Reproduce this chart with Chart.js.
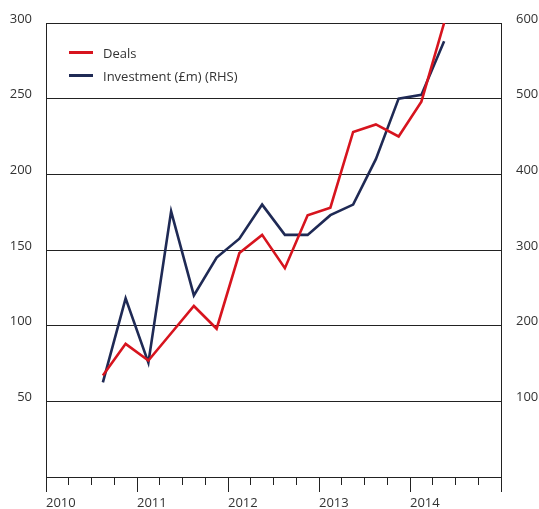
<!DOCTYPE html>
<html>
<head>
<meta charset="utf-8">
<script src="https://cdn.jsdelivr.net/npm/chart.js@4/dist/chart.umd.min.js"></script>
<style>
  html, body { margin:0; padding:0; background:#fff; overflow:hidden; width:539px; height:509px; }
  #wrap { position:relative; width:539px; height:509px; }
  #legend { position:absolute; left:69px; top:41px; font-family:"Open Sans", sans-serif; font-size:13px; color:#333; }
  .li { display:flex; align-items:center; height:23px; }
  .sw { width:24px; height:3px; margin-right:10px; }
</style>
</head>
<body>
<div id="wrap"><canvas id="c"></canvas><div id="legend"></div></div>
<script>
// ---- data ----
const quarters = ['2010 Q3','2010 Q4','2011 Q1','2011 Q2','2011 Q3','2011 Q4','2012 Q1','2012 Q2',
                  '2012 Q3','2012 Q4','2013 Q1','2013 Q2','2013 Q3','2013 Q4','2014 Q1','2014 Q2'];
const deals      = [67, 88, 77, 95, 113, 98, 148, 160, 138, 173, 178, 228, 233, 225, 248, 300];
const investment = [125, 236, 151, 351, 240, 290, 315, 360, 320, 320, 346, 360, 420, 500, 505, 576];
const yearLabels = ['2010','2011','2012','2013','2014'];
const leftTicks  = [50, 100, 150, 200, 250, 300];
const rightTicks = [100, 200, 300, 400, 500, 600];
const seriesNames = ['Deals', 'Investment (£m) (RHS)'];

const qx = q => { const [y, qq] = q.split(' Q'); return Number(y) + (Number(qq) - 0.5) / 4; };
const pts = arr => arr.map((v, i) => ({ x: qx(quarters[i]), y: v }));

const FONT = { family: '"Open Sans", sans-serif', size: 13 };
const TXT = '#333';
const LINE = '#222';
const xMin = Number(yearLabels[0]);
const xMax = Number(yearLabels[yearLabels.length - 1]) + 1;

const chart = new Chart(document.getElementById('c'), {
  type: 'line',
  data: {
    datasets: [
      { label: seriesNames[0], data: pts(deals), yAxisID: 'y', borderColor: '#d7141e', borderWidth: 2.6, pointRadius: 0, tension: 0 },
      { label: seriesNames[1], data: pts(investment), yAxisID: 'y2', borderColor: '#1f2a55', borderWidth: 2.6, pointRadius: 0, tension: 0 }
    ]
  },
  options: {
    responsive: true, maintainAspectRatio: false, animation: false,
    layout: { padding: { top: 23, left: 0, right: 0, bottom: 0 } },
    plugins: { legend: { display: false }, tooltip: { enabled: false } },
    scales: {
      x: {
        type: 'linear', position: 'bottom', min: xMin, max: xMax,
        ticks: {
          stepSize: 1, autoSkip: false, maxRotation: 0, align: 'start', padding: 3,
          color: TXT, font: FONT,
          callback: v => yearLabels.includes(String(v)) ? String(v) : ''
        },
        grid: { drawOnChartArea: false, drawTicks: true, tickLength: 15, tickColor: LINE, tickWidth: 1 },
        border: { display: true, color: LINE, width: 1 },
        afterFit: s => { s.height = 32; }
      },
      xMinor: {
        type: 'linear', position: { y: 0 }, min: xMin, max: xMax,
        ticks: { display: false, stepSize: 0.25, autoSkip: false },
        grid: { drawOnChartArea: false, drawTicks: true, tickLength: 8, tickColor: LINE, tickWidth: 1 },
        border: { display: false }
      },
      y: {
        position: 'left', min: 0, max: leftTicks[leftTicks.length - 1],
        ticks: { stepSize: 50, color: TXT, font: FONT, padding: 14, labelOffset: -4,
                 callback: v => leftTicks.includes(v) ? String(v) : '' },
        grid: { color: LINE, lineWidth: 1, drawTicks: false },
        border: { display: true, color: LINE, width: 1 },
        afterFit: s => { s.width = 46; }
      },
      y2: {
        position: 'right', min: 0, max: rightTicks[rightTicks.length - 1],
        ticks: { stepSize: 100, color: TXT, font: FONT, padding: 15, labelOffset: -4,
                 callback: v => rightTicks.includes(v) ? String(v) : '' },
        grid: { drawOnChartArea: false, drawTicks: false },
        border: { display: true, color: LINE, width: 1 },
        afterFit: s => { s.width = 38; }
      }
    }
  }
});

// HTML legend built from the datasets
const lg = document.getElementById('legend');
chart.data.datasets.forEach(ds => {
  const row = document.createElement('div'); row.className = 'li';
  const sw = document.createElement('span'); sw.className = 'sw'; sw.style.background = ds.borderColor;
  const t = document.createElement('span'); t.textContent = ds.label;
  row.appendChild(sw); row.appendChild(t); lg.appendChild(row);
});
</script>
</body>
</html>
